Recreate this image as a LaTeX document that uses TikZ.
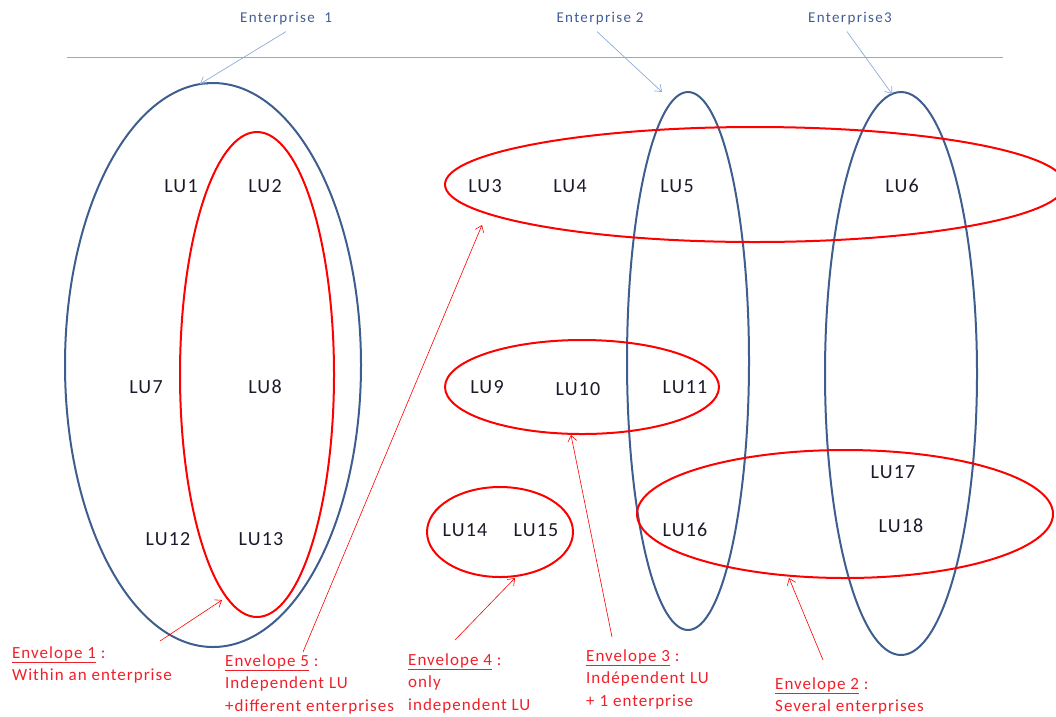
\documentclass[tikz,border=0pt]{standalone}
\usepackage{fontspec}
\setmainfont{Carlito}
\newfontfamily\lufont[LetterSpace=6]{Carlito}
\newfontfamily\envfont[LetterSpace=6]{Carlito}
\newfontfamily\entfont[LetterSpace=9]{Carlito}
\usetikzlibrary{shapes.geometric,arrows.meta}
\definecolor{entblue}{HTML}{3E5F8E}
\definecolor{lightblue}{HTML}{8EAADB}
\definecolor{enttext}{HTML}{3F5D96}
\definecolor{envred}{HTML}{FF0000}
\definecolor{envtext}{HTML}{F0202A}
\definecolor{lutext}{HTML}{1A1A2A}
\tikzset{
  entell/.style={draw=entblue, line width=2pt, ellipse, inner sep=0pt},
  envell/.style={draw=envred, line width=2pt, ellipse, inner sep=0pt},
  lu/.style={text=lutext, font=\lufont\fontsize{20}{24}\selectfont, inner sep=0pt},
  entlabel/.style={text=enttext, font=\entfont\fontsize{15}{18}\selectfont, inner sep=0pt},
  envlabel/.style={text=envtext, font=\envfont\fontsize{17}{22.5}\selectfont, align=left, anchor=base west, inner sep=0pt},
  entarrow/.style={draw=lightblue, line width=0.7pt, -{Straight Barb[length=6pt,width=9pt]}},
  envarrow/.style={draw=envred, line width=0.6pt, -{Straight Barb[length=6pt,width=9pt]}},
}
\begin{document}
\begin{tikzpicture}[x=1pt,y=-1pt]
\useasboundingbox (0,0) rectangle (1056,716);
\clip (0,0) rectangle (1056,716);
% top line
\coordinate (lineL) at (67,57);
\coordinate (lineR) at (1003,57);
\draw[lightblue, line width=1pt] (lineL) -- (lineR);
% enterprise ellipses
\node[entell, minimum width=296pt, minimum height=564pt] (ent1) at (213,365) {};
\node[entell, minimum width=122pt, minimum height=538pt] (ent2) at (688,361) {};
\node[entell, minimum width=152pt, minimum height=563pt] (ent3) at (901,373.5) {};
% envelope ellipses
\node[envell, minimum width=154pt, minimum height=485pt] (env1) at (257,374.5) {};
\node[envell, minimum width=620pt, minimum height=115pt] (env5) at (755,184.5) {};
\node[envell, minimum width=274pt, minimum height=94pt] (env3) at (582,387) {};
\node[envell, minimum width=146pt, minimum height=90pt] (env4) at (500,532) {};
\node[envell, minimum width=416pt, minimum height=128pt] (env2) at (845,514) {};
% LU labels
\node[lu] (lu1) at (181,186) {LU1};
\node[lu] (lu2) at (265,186) {LU2};
\node[lu] (lu3) at (485,186) {LU3};
\node[lu] (lu4) at (570,186) {LU4};
\node[lu] (lu5) at (677,186) {LU5};
\node[lu] (lu6) at (902,186) {LU6};
\node[lu] (lu7) at (146,387) {LU7};
\node[lu] (lu8) at (265,387) {LU8};
\node[lu] (lu9) at (487,387) {LU9};
\node[lu] (lu10) at (578,389) {LU10};
\node[lu] (lu11) at (685,387) {LU11};
\node[lu] (lu12) at (168,539) {LU12};
\node[lu] (lu13) at (261,539) {LU13};
\node[lu] (lu14) at (465,530) {LU14};
\node[lu] (lu15) at (536,530) {LU15};
\node[lu] (lu16) at (685,530) {LU16};
\node[lu] (lu17) at (893,472) {LU17};
\node[lu] (lu18) at (901,526) {LU18};
% enterprise labels
\node[entlabel] (e1) at (286,19) {Enterprise~~1};
\node[entlabel] (e2) at (600,19) {Enterprise 2};
\node[entlabel] (e3) at (850,19) {Enterprise3};
\coordinate (e1tip) at (200,84);
\coordinate (e2tip) at (662,92);
\coordinate (e3tip) at (892,94);
\draw[entarrow] (e1.south) ++(0,6) -- (e1tip);
\draw[entarrow] (e2.south) ++(-3,6) -- (e2tip);
\draw[entarrow] (e3.south) ++(-3,6) -- (e3tip);
% envelope labels (base anchor = last line baseline)
\node[envlabel] (l1) at (12,680.5) {\underline{Envelope 1} :\\Within an enterprise};
\node[envlabel] (l5) at (225,711) {\underline{Envelope 5} :\\Independent LU\\+different enterprises};
\node[envlabel] (l4) at (408,710) {\underline{Envelope 4} :\\only\\independent LU};
\node[envlabel] (l3) at (586,706) {\underline{Envelope 3} :\\Indépendent LU\\+ 1 enterprise};
\node[envlabel] (l2) at (775,711.5) {\underline{Envelope 2} :\\Several enterprises};
% envelope arrows
\coordinate (a1s) at (160,641);
\coordinate (a1t) at (222,600);
\coordinate (a5s) at (303,652);
\coordinate (a5t) at (482,225);
\coordinate (a4s) at (455,640);
\coordinate (a4t) at (515,578);
\coordinate (a3s) at (612,637);
\coordinate (a3t) at (571,435);
\coordinate (a2s) at (823,660);
\coordinate (a2t) at (789,578);
\draw[envarrow] (a1s) -- (a1t);
\draw[envarrow] (a5s) -- (a5t);
\draw[envarrow] (a4s) -- (a4t);
\draw[envarrow] (a3s) -- (a3t);
\draw[envarrow] (a2s) -- (a2t);
\end{tikzpicture}
\end{document}
